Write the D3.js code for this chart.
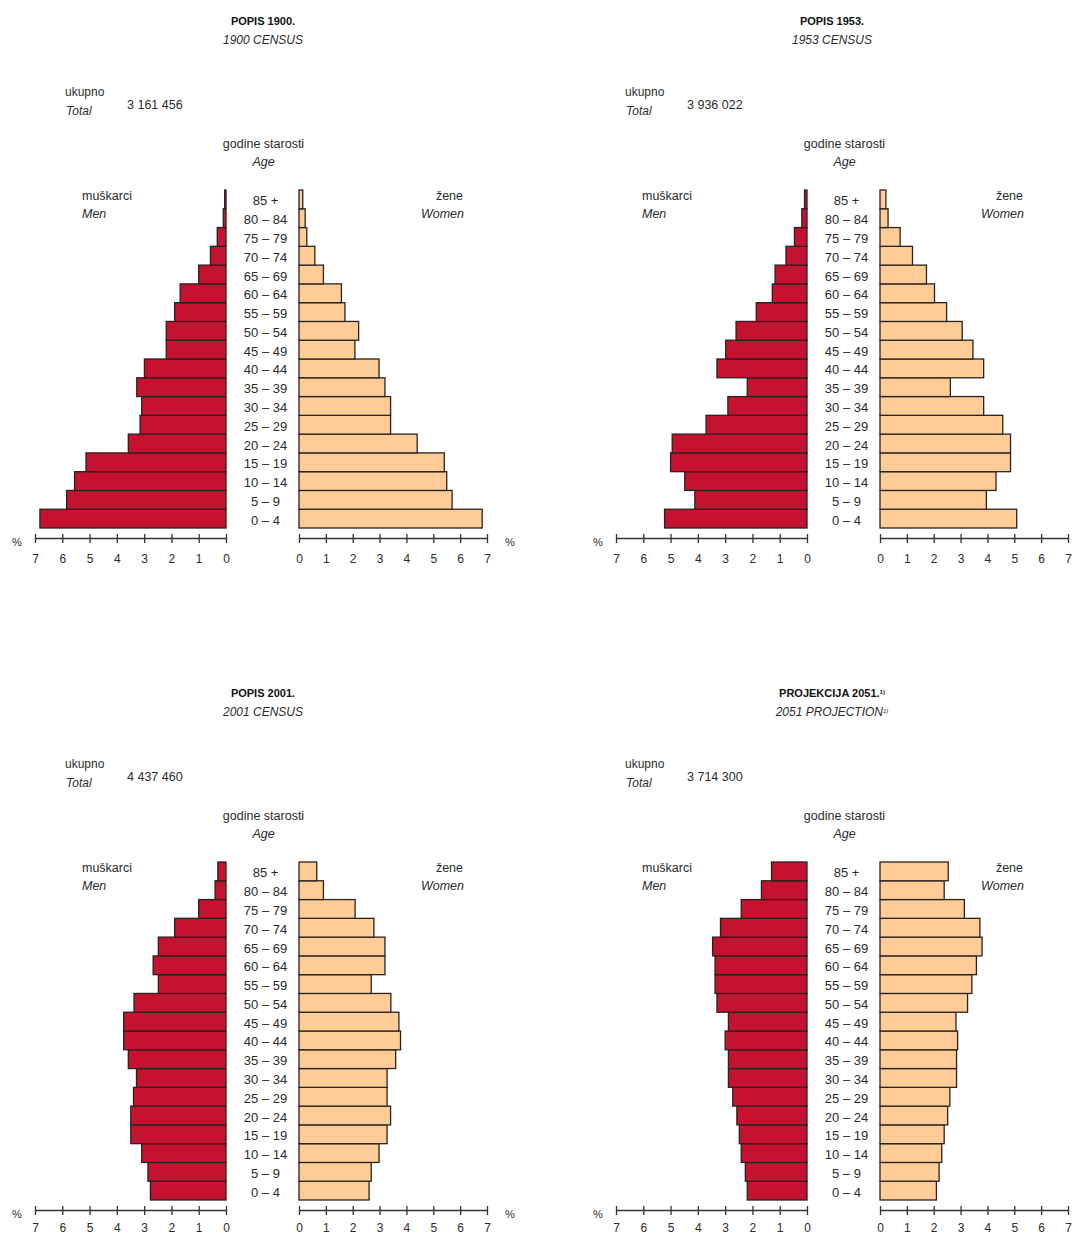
<!DOCTYPE html>
<html>
<head>
<meta charset="utf-8">
<script src="https://cdn.jsdelivr.net/npm/d3@7"></script>
<style>
  html, body { margin: 0; padding: 0; background: #fff; }
  svg { display: block; }
  text { font-family: "Liberation Sans", Arial, sans-serif; fill: #2b2b2b; }
</style>
</head>
<body>
<svg id="chart" width="1072" height="1236"></svg>
<script>
// Age groups, youngest first
const ageGroups = ["0 – 4","5 – 9","10 – 14","15 – 19","20 – 24","25 – 29","30 – 34","35 – 39","40 – 44",
                   "45 – 49","50 – 54","55 – 59","60 – 64","65 – 69","70 – 74","75 – 79","80 – 84","85 +"];
const xTicks = [0,1,2,3,4,5,6,7];

// Shares (%) of total population, youngest first
const men1900   = [6.82, 5.84, 5.55, 5.13, 3.58, 3.15, 3.09, 3.27, 2.99, 2.19, 2.19, 1.88, 1.68, 1.00, 0.57, 0.32, 0.10, 0.05];
const women1900 = [6.82, 5.70, 5.50, 5.41, 4.40, 3.41, 3.41, 3.20, 2.98, 2.08, 2.22, 1.71, 1.58, 0.91, 0.59, 0.29, 0.23, 0.14];
const men1953   = [5.22, 4.11, 4.48, 5.00, 4.94, 3.70, 2.90, 2.19, 3.30, 2.98, 2.60, 1.86, 1.27, 1.17, 0.77, 0.46, 0.19, 0.09];
const women1953 = [5.09, 3.96, 4.32, 4.86, 4.86, 4.57, 3.86, 2.62, 3.86, 3.46, 3.06, 2.48, 2.03, 1.73, 1.21, 0.75, 0.30, 0.22];
const men2001   = [2.77, 2.86, 3.09, 3.49, 3.49, 3.39, 3.28, 3.58, 3.75, 3.75, 3.37, 2.48, 2.67, 2.48, 1.88, 1.00, 0.40, 0.30];
const women2001 = [2.61, 2.69, 2.98, 3.28, 3.41, 3.28, 3.28, 3.60, 3.78, 3.72, 3.42, 2.69, 3.20, 3.20, 2.79, 2.09, 0.91, 0.66];
const men2051   = [2.19, 2.26, 2.41, 2.48, 2.57, 2.72, 2.88, 2.88, 3.00, 2.88, 3.30, 3.37, 3.37, 3.46, 3.17, 2.41, 1.67, 1.30];
const women2051 = [2.10, 2.20, 2.30, 2.39, 2.52, 2.60, 2.85, 2.85, 2.89, 2.83, 3.26, 3.42, 3.59, 3.80, 3.72, 3.14, 2.39, 2.54];

const titles    = ["POPIS 1900.", "POPIS 1953.", "POPIS 2001.", "PROJEKCIJA 2051."];
const subtitles = ["1900 CENSUS", "1953 CENSUS", "2001 CENSUS", "2051 PROJECTION"];
const totals    = ["3 161 456", "3 936 022", "4 437 460", "3 714 300"];
const footnote  = [false, false, false, true];
const menSeries   = [men1900, men1953, men2001, men2051];
const womenSeries = [women1900, women1953, women2001, women2051];

// layout (positions only)
const layout = [
  {dx: 0,   dy: 0,   tx: 263, lx: 0,   rightPct: true,  tickY: 21},
  {dx: 581, dy: 0,   tx: 832, lx: 560, rightPct: false, tickY: 21},
  {dx: 0,   dy: 672, tx: 263, lx: 0,   rightPct: true,  tickY: 18},
  {dx: 581, dy: 672, tx: 832, lx: 560, rightPct: false, tickY: 18}
];

const MEN = "#c41230", WOMEN = "#ffcb96", STROKE = "#2a2220";
const svg = d3.select("#chart");

layout.forEach((L, i) => {
  const g = svg.append("g");
  const dx = L.dx, dy = L.dy;

  const xM = d3.scaleLinear().domain([0, 7]).range([226 + dx, 35 + dx]);
  const xW = d3.scaleLinear().domain([0, 7]).range([299 + dx, 487 + dx]);
  const y = d3.scaleBand().domain(ageGroups.slice().reverse()).range([190 + dy, 528 + dy]).padding(0);

  // titles
  const t = g.append("text").attr("x", L.tx).attr("y", 21 + dy).attr("dy", "0.35em")
    .attr("text-anchor", "middle").style("font-weight", "bold").style("font-size", "11px")
    .style("fill", "#111").text(titles[i]);
  if (footnote[i]) t.append("tspan").attr("dy", "-0.5em").style("font-size", "6px").text("1)");
  const s = g.append("text").attr("x", L.tx).attr("y", 39.5 + dy).attr("dy", "0.35em")
    .attr("text-anchor", "middle").style("font-style", "italic").style("font-size", "12px")
    .text(subtitles[i]);
  if (footnote[i]) s.append("tspan").attr("dy", "-0.5em").style("font-size", "6px").text("1)");

  // totals
  g.append("text").attr("x", L.lx + 65).attr("y", 92 + dy).attr("dy", "0.35em").style("font-size", "12px").text("ukupno");
  g.append("text").attr("x", L.lx + 66).attr("y", 110.5 + dy).attr("dy", "0.35em").style("font-size", "12px")
    .style("font-style", "italic").text("Total");
  g.append("text").attr("x", L.lx + 127).attr("y", 105 + dy).attr("dy", "0.35em").style("font-size", "12.5px").text(totals[i]);

  // age heading
  const ax = (226 + 299) / 2 + dx + 1;
  g.append("text").attr("x", ax).attr("y", 143.5 + dy).attr("dy", "0.35em").attr("text-anchor", "middle")
    .style("font-size", "12.5px").text("godine starosti");
  g.append("text").attr("x", ax).attr("y", 162 + dy).attr("dy", "0.35em").attr("text-anchor", "middle")
    .style("font-size", "12.5px").style("font-style", "italic").text("Age");

  // sex labels
  g.append("text").attr("x", L.lx + 82).attr("y", 195.5 + dy).attr("dy", "0.35em").style("font-size", "12.5px").text("muškarci");
  g.append("text").attr("x", L.lx + 82).attr("y", 214 + dy).attr("dy", "0.35em").style("font-size", "12.5px")
    .style("font-style", "italic").text("Men");
  g.append("text").attr("x", L.lx + 463).attr("y", 195.5 + dy).attr("dy", "0.35em").attr("text-anchor", "end")
    .style("font-size", "12.5px").text("žene");
  g.append("text").attr("x", L.lx + 464).attr("y", 214 + dy).attr("dy", "0.35em").attr("text-anchor", "end")
    .style("font-size", "12.5px").style("font-style", "italic").text("Women");

  // bars
  g.append("g").selectAll("rect").data(menSeries[i]).join("rect")
    .attr("x", d => xM(d)).attr("y", (d, k) => y(ageGroups[k]))
    .attr("width", d => xM(0) - xM(d)).attr("height", y.bandwidth())
    .attr("fill", MEN).attr("stroke", STROKE).attr("stroke-width", 1.3);
  g.append("g").selectAll("rect").data(womenSeries[i]).join("rect")
    .attr("x", xW(0)).attr("y", (d, k) => y(ageGroups[k]))
    .attr("width", d => xW(d) - xW(0)).attr("height", y.bandwidth())
    .attr("fill", WOMEN).attr("stroke", STROKE).attr("stroke-width", 1.3);

  // age labels
  g.append("g").selectAll("text").data(ageGroups).join("text")
    .attr("x", ax + 2).attr("y", d => y(d) + y.bandwidth() / 2 + 1.5).attr("dy", "0.35em")
    .attr("text-anchor", "middle").style("font-size", "13px").text(d => d);

  // axes
  const axisY = 538 + dy;
  [xM, xW].forEach(sc => {
    const a = g.append("g").attr("transform", `translate(0,${axisY})`)
      .call(d3.axisBottom(sc).tickValues(xTicks).tickFormat(d3.format("d"))
        .tickSizeOuter(0).tickSizeInner(5).tickPadding(0));
    a.select(".domain").attr("stroke", "#333").attr("stroke-width", 1.3);
    a.selectAll(".tick line").attr("y1", -4).attr("y2", 5).attr("stroke", "#333").attr("stroke-width", 1.3);
    a.selectAll(".tick text").attr("y", L.tickY).attr("dy", "0.35em")
      .style("font-size", "12px").style("font-family", "'Liberation Sans', Arial, sans-serif").attr("fill", "#2b2b2b");
  });
  g.append("text").attr("x", 17 + dx).attr("y", 542 + dy).attr("dy", "0.35em").attr("text-anchor", "middle")
    .style("font-size", "11px").text("%");
  if (L.rightPct) {
    g.append("text").attr("x", 510 + dx).attr("y", 542 + dy).attr("dy", "0.35em").attr("text-anchor", "middle")
      .style("font-size", "11px").text("%");
  }
});
</script>
</body>
</html>
